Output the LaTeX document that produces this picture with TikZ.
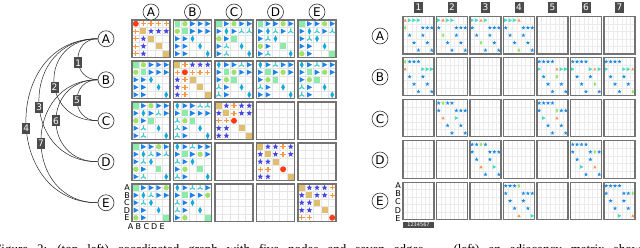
\documentclass[tikz,border=0pt]{standalone}
\usepackage{fontspec}
\setmainfont{Liberation Serif}
\setsansfont{DejaVu Sans}
\definecolor{cT}{RGB}{30,130,235}
\definecolor{cG}{RGB}{140,235,170}
\definecolor{cg}{RGB}{160,225,110}
\definecolor{cD}{RGB}{20,170,220}
\definecolor{cY}{RGB}{70,200,210}
\definecolor{cS}{RGB}{70,70,225}
\definecolor{cP}{RGB}{250,150,70}
\definecolor{cR}{RGB}{255,60,20}
\definecolor{cQ}{RGB}{225,190,110}
\definecolor{cs}{RGB}{30,140,230}
\definecolor{ct}{RGB}{70,220,190}
\definecolor{cy}{RGB}{250,150,80}
\definecolor{cd}{RGB}{150,230,110}
\definecolor{labgray}{RGB}{75,75,75}
\newcommand\starpath[2]{(-90:#1) -- (-54:#2) -- (-18:#1) -- (18:#2) -- (54:#1) -- (90:#2) -- (126:#1) -- (162:#2) -- (198:#1) -- (234:#2) -- cycle}
\newcommand\glyT{\fill[cT] (-2.3,-2.7) -- (2.8,0) -- (-2.3,2.7) -- cycle;}
\newcommand\glyG{\fill[cG] (-2.8,-2.8) rectangle (2.8,2.8);}
\newcommand\glyg{\fill[cg] (0,0) circle (2.7);}
\newcommand\glyD{\fill[cD] (0,-3.4) -- (1.9,0) -- (0,3.4) -- (-1.9,0) -- cycle;}
\newcommand\glyY{\draw[cY,line width=1.2pt] (0,0) -- (0,-2.9) (0,0) -- (-2.5,1.6) (0,0) -- (2.5,1.6);}
\newcommand\glyS{\fill[cS] \starpath{3.1}{1.3};}
\newcommand\glyP{\draw[cP,line width=1.3pt] (-2.7,0) -- (2.7,0) (0,-2.7) -- (0,2.7);}
\newcommand\glyR{\fill[cR] (0,0) circle (3);}
\newcommand\glyQ{\fill[cQ] (-3,-3) rectangle (3,3);}
\newcommand\glyo{}
\newcommand\glys{\fill[cs] \starpath{2.1}{0.9};}
\newcommand\glyt{\fill[ct] (-1.6,-1.9) -- (2,0) -- (-1.6,1.9) -- cycle;}
\newcommand\glyy{\fill[cy] (0,-1.8) -- (1.6,1.3) -- (-1.6,1.3) -- cycle;}
\newcommand\glyd{\fill[cd] (0,-2.4) -- (1.3,0) -- (0,2.4) -- (-1.3,0) -- cycle;}
\tikzset{
 gnode/.style={circle,draw=black!80,line width=0.6pt,fill=white,minimum size=16pt,inner sep=0pt,font=\sffamily\fontsize{12}{12}\selectfont},
 elab/.style={fill=labgray,text=white,inner sep=0pt,minimum width=8pt,minimum height=11pt,font=\sffamily\fontsize{9}{9}\selectfont},
 hbox/.style={fill=labgray,text=white,inner sep=0pt,minimum width=9pt,minimum height=11pt,font=\sffamily\fontsize{9}{9}\selectfont},
 edge/.style={draw=black!85,line width=0.5pt},
 lgrid/.style={draw=black!10,line width=0.4pt},
 rgrid/.style={draw=black!8,line width=0.4pt},
 lbox/.style={draw=black!55,line width=1.4pt},
 rbox/.style={draw=black!55,line width=1.1pt},
 axl/.style={font=\sffamily\fontsize{8}{8}\selectfont,inner sep=0pt},
}
\newcommand\lcell[3]{%
 \begin{scope}[shift={({#1},{#2})}]
  \foreach \k in {1,2,3,4}{\draw[lgrid] ({7.6*\k},0) -- ({7.6*\k},37.5) (0,{7.5*\k}) -- (38,{7.5*\k});}
  \ifx\relax#3\relax\else
  \foreach \gl [count=\i from 0] in {#3}{%
   \pgfmathtruncatemacro\cc{mod(\i,5)}%
   \pgfmathtruncatemacro\rr{div(\i,5)}%
   \begin{scope}[shift={({3.8+7.6*\cc},{3.75+7.5*\rr})}]\csname gly\gl\endcsname\end{scope}}%
  \fi
  \draw[lbox] (0,0) rectangle (38,37.5);
 \end{scope}}
\newcommand\rcell[3]{%
 \begin{scope}[shift={({#1},{#2})}]
  \foreach \k in {1,...,6}{\draw[rgrid] ({31/7*\k},0) -- ({31/7*\k},37.5);}
  \foreach \k in {1,...,4}{\draw[rgrid] (0,{7.5*\k}) -- (31,{7.5*\k});}
  \ifx\relax#3\relax\else
  \foreach \gl [count=\i from 0] in {#3}{%
   \pgfmathtruncatemacro\cc{mod(\i,7)}%
   \pgfmathtruncatemacro\rr{div(\i,7)}%
   \begin{scope}[shift={({2.2+31/7*\cc},{3.75+7.5*\rr})}]\csname gly\gl\endcsname\end{scope}}%
  \fi
  \draw[rbox] (0,0) rectangle (31,37.5);
 \end{scope}}
\begin{document}
\begin{tikzpicture}[x=1pt,y=-1pt]
\path[use as bounding box,clip] (0,0) rectangle (640,247);
\fill[white] (0,0) rectangle (640,247);
% ---------- left matrix ----------
\lcell{132}{20}{R,P,P,P,P,P,Q,S,S,S,P,S,Q,o,o,P,S,o,Q,o,P,S,o,o,Q}
\lcell{173.5}{20}{G,g,T,T,T,g,G,T,T,T,T,T,D,o,o,T,T,o,D,o,T,T,o,o,D}
\lcell{215}{20}{G,T,g,T,T,T,D,T,Y,Y,g,T,G,o,o,T,Y,o,D,o,T,Y,o,o,D}
\lcell{256.5}{20}{G,T,T,g,T,T,D,Y,T,Y,T,Y,D,o,o,g,T,o,G,o,T,Y,o,o,D}
\lcell{298}{20}{G,T,T,g,T,T,D,Y,T,Y,T,Y,D,o,o,T,T,o,D,o,g,T,o,o,G}
\lcell{132}{61}{G,g,T,T,T,g,G,T,T,T,T,T,D,o,o,T,T,o,D,o,T,T,o,o,D}
\lcell{173.5}{61}{Q,P,S,S,S,P,R,P,P,P,S,P,Q,o,o,S,P,o,Q,o,S,P,o,o,Q}
\lcell{215}{61}{D,T,T,Y,T,T,G,g,T,T,T,g,G,o,o,Y,T,o,D,o,Y,T,o,o,D}
\lcell{256.5}{61}{D,T,Y,T,T,T,G,T,g,T,T,g,G,o,o,Y,T,o,D,o,T,T,o,o,D}
\lcell{298}{61}{D,T,Y,T,T,T,G,T,g,T,T,g,G,o,o,Y,T,o,D,o,Y,T,o,o,D}
\lcell{132}{102}{G,T,g,T,T,T,D,T,Y,T,g,T,G,o,o,T,Y,o,D,o,T,Y,o,o,D}
\lcell{173.5}{102}{D,T,T,Y,Y,T,G,T,T,T,Y,g,G,o,o,Y,T,o,D,o,Y,T,o,o,D}
\lcell{215}{102}{Q,S,P,S,S,S,Q,P,S,S,P,P,R,o,o,S,S,o,Q,o,S,S,o,o,Q}
\lcell{256.5}{102}{}
\lcell{298}{102}{}
\lcell{132}{143}{G,T,T,g,T,T,D,Y,T,Y,T,Y,D,o,o,g,T,o,G,o,T,Y,o,o,D}
\lcell{173.5}{143}{D,T,Y,T,T,T,G,T,g,T,Y,T,D,o,o,T,g,o,G,o,Y,T,o,o,D}
\lcell{215}{143}{}
\lcell{256.5}{143}{Q,S,S,P,S,S,Q,S,P,S,S,S,Q,o,o,P,P,o,R,o,S,S,o,o,Q}
\lcell{298}{143}{}
\lcell{132}{184}{G,T,T,T,g,T,D,Y,T,T,T,Y,D,o,o,T,T,o,D,o,g,T,o,o,G}
\lcell{173.5}{184}{D,T,Y,Y,T,T,G,T,T,g,Y,T,D,o,o,Y,T,o,D,o,T,g,o,o,G}
\lcell{215}{184}{}
\lcell{256.5}{184}{}
\lcell{298}{184}{Q,S,S,S,P,S,Q,S,S,P,S,S,Q,o,o,S,S,o,Q,o,P,P,o,o,R}
% column headers
\node[gnode] (hA) at (151,12) {A};
\node[gnode] (hB) at (192.5,12) {B};
\node[gnode] (hC) at (234,12) {C};
\node[gnode] (hD) at (275.5,12) {D};
\node[gnode] (hE) at (317,12) {E};
% axis letters of the left matrix
\foreach \t [count=\i from 0] in {A,B,C,D,E}{
  \node[axl] (lv\t) at (127,{187.75+7.5*\i}) {\t};
  \node[axl] (lh\t) at ({130.5+7.9*\i},227) {\t};
}
% ---------- graph ----------
\node[gnode] (A) at (106,38.75) {A};
\node[gnode] (B) at (106,79.75) {B};
\node[gnode] (C) at (106,120.75) {C};
\node[gnode] (D) at (106,161.75) {D};
\node[gnode] (E) at (106,202.75) {E};
\draw[edge] (A) .. controls (2,38.75) and (2,202.75) .. (E) node[elab,pos=0.53] (e4) {4};
\draw[edge] (A) .. controls (19.3,38.75) and (19.3,161.75) .. (D) node[elab,pos=0.54] (e3) {3};
\draw[edge] (B) .. controls (22,79.75) and (22,202.75) .. (E) node[elab,pos=0.51] (e7) {7};
\draw[edge] (A) .. controls (39.3,38.75) and (39.3,120.75) .. (C) node[elab,pos=0.56] (e2) {2};
\draw[edge] (B) .. controls (42,79.75) and (42,161.75) .. (D) node[elab,pos=0.5] (e6) {6};
\draw[edge] (A) .. controls (71.3,38.75) and (71.3,79.75) .. (B) node[elab,pos=0.56] (e1) {1};
\draw[edge] (B) .. controls (70,79.75) and (70,120.75) .. (C) node[elab,pos=0.5] (e5) {5};
% ---------- right matrix ----------
\foreach \r in {0,...,4}{\foreach \c in {0,...,6}{\rcell{403+33.5*\c}{16.5+41.4*\r}{}}}
\rcell{403}{16.5}{y,t,t,t,o,o,o,d,o,o,o,s,s,s,o,s,o,o,s,o,o,o,o,s,o,o,s,o,o,o,o,s,o,o,s}
\rcell{436.5}{16.5}{t,y,t,t,o,o,o,s,o,o,o,s,s,s,o,d,o,o,s,o,o,o,o,s,o,o,s,o,o,o,o,s,o,o,s}
\rcell{470}{16.5}{t,t,y,t,o,o,o,s,o,o,o,s,s,s,o,s,o,o,s,o,o,o,o,d,o,o,s,o,o,o,o,s,o,o,s}
\rcell{503.5}{16.5}{t,t,t,y,o,o,o,s,o,o,o,s,s,s,o,s,o,o,s,o,o,o,o,s,o,o,s,o,o,o,o,d,o,o,s}
\rcell{403}{57.9}{d,s,s,s,o,o,o,y,o,o,o,t,t,t,o,s,o,o,s,o,o,o,o,s,o,o,s,o,o,o,o,s,o,o,s}
\rcell{537}{57.9}{s,s,s,s,o,o,o,t,o,o,o,y,t,t,o,s,o,o,d,o,o,o,o,s,o,o,s,o,o,o,o,s,o,o,s}
\rcell{570.5}{57.9}{s,s,s,s,o,o,o,t,o,o,o,t,y,t,o,s,o,o,s,o,o,o,o,s,o,o,d,o,o,o,o,s,o,o,s}
\rcell{604}{57.9}{s,s,s,s,o,o,o,t,o,o,o,t,t,y,o,s,o,o,s,o,o,o,o,s,o,o,s,o,o,o,o,s,o,o,d}
\rcell{436.5}{99.3}{s,d,s,s,o,o,o,s,o,o,o,s,s,s,o,y,o,o,t,o,o,o,o,s,o,o,s,o,o,o,o,s,o,o,s}
\rcell{537}{99.3}{s,s,s,s,o,o,o,s,o,o,o,d,s,s,o,t,o,o,y,o,o,o,o,s,o,o,s,o,o,o,o,s,o,o,s}
\rcell{470}{140.7}{s,s,d,s,o,o,o,s,o,o,o,s,s,s,o,s,o,o,s,o,o,o,o,y,o,o,t,o,o,o,o,s,o,o,s}
\rcell{570.5}{140.7}{s,s,s,s,o,o,o,s,o,o,o,s,d,s,o,s,o,o,s,o,o,o,o,t,o,o,y,o,o,o,o,s,o,o,s}
\rcell{503.5}{182.1}{s,s,s,d,o,o,o,s,o,o,o,s,s,s,o,s,o,o,s,o,o,o,o,s,o,o,s,o,o,o,o,y,o,o,t}
\rcell{604}{182.1}{s,s,s,s,o,o,o,s,o,o,o,s,s,d,o,s,o,o,s,o,o,o,o,s,o,o,s,o,o,o,o,t,o,o,y}
% row labels and column headers of the right matrix
\node[gnode] (rA) at (380,36) {A};
\node[gnode] (rB) at (380,77) {B};
\node[gnode] (rC) at (380,119) {C};
\node[gnode] (rD) at (380,160) {D};
\node[gnode] (rE) at (380,201) {E};
\foreach \c in {1,...,7}{\node[hbox] (n\c) at ({418.5+33.5*(\c-1)},7) {\c};}
\foreach \t [count=\i from 0] in {A,B,C,D,E}{\node[axl] (rv\t) at (398,{185.5+8.2*\i}) {\t};}
\node[fill=labgray,text=white,inner sep=0pt,minimum width=31pt,minimum height=6pt,font=\sffamily\fontsize{5}{5}\selectfont] (rh) at (418.5,225) {1234567};
% ---------- caption (cut off by the lower edge, as in the reference) ----------
\node[anchor=base west,inner sep=0pt,font=\fontsize{13}{13}\selectfont] (cap) at (-6,253)
 {\spaceskip=9pt Figure 2: (top left) coordinated graph with five nodes and seven edges\hspace{30pt}(left) an adjacency matrix showing incidence};
\end{tikzpicture}
\end{document}
